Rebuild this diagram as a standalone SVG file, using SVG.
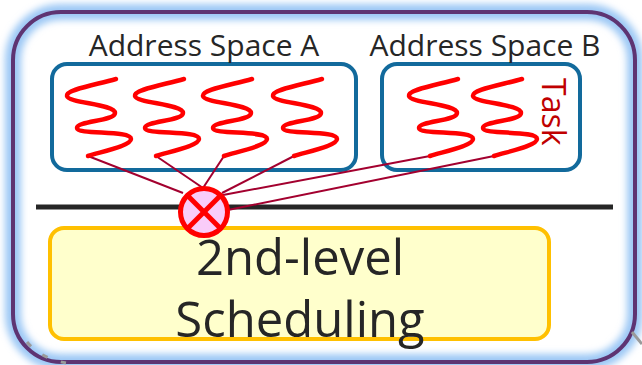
<svg xmlns="http://www.w3.org/2000/svg" width="642" height="365" viewBox="0 0 642 365">
  <defs>
    <filter id="glow" x="-10%" y="-10%" width="120%" height="120%">
      <feGaussianBlur stdDeviation="3.5"/>
    </filter>
    <path id="thread" d="M0,0 C-26,7 -50,11 -49,17 C-48,24 -1,25 -1,34 C-1,42 -39,42 -39,49 C-39,56 15,51 15,60 C15,67 -16,73 -28,77"/>
  </defs>
  <style>
    .label { font-family: "Open Sans", "Liberation Sans", sans-serif; fill: #262626; }
    .space { fill: #ffffff; stroke: #126a9c; stroke-width: 4; }
    .thread { fill: none; stroke: #ff0000; stroke-width: 4.5; stroke-linecap: round; }
    .link { stroke: #a3002f; stroke-width: 2; fill: none; }
  </style>

  <rect width="642" height="365" fill="#ffffff"/>

  <!-- outer frame with soft blue halo -->
  <g id="frame">
    <rect x="13" y="12" width="622" height="350" rx="48" ry="48" fill="none" stroke="#9cc8f5" stroke-width="16" filter="url(#glow)"/>
    <rect x="13" y="12" width="622" height="350" rx="48" ry="48" fill="none" stroke="#5e3472" stroke-width="4"/>
    <path d="M27,342 Q40,358 66,363" fill="none" stroke="#9a9a9a" stroke-width="3" stroke-dasharray="6 14"/>
    <line x1="632" y1="332" x2="642" y2="344" stroke="#9a9a9a" stroke-width="3"/>
  </g>

  <!-- kernel boundary -->
  <line id="boundary" x1="36" y1="207" x2="613" y2="207" stroke="#262626" stroke-width="5"/>

  <g id="scheduler">
    <rect x="50" y="228" width="499" height="111" rx="14" ry="14" fill="#ffffcc" stroke="#ffc000" stroke-width="4"/>
    <text class="label" x="300" y="275" font-size="49" text-anchor="middle">2nd-level</text>
    <text class="label" x="300" y="337" font-size="49" text-anchor="middle">Scheduling</text>
  </g>

  <g id="space-a">
    <rect class="space" x="52" y="64" width="304" height="106" rx="15" ry="15"/>
    <text class="label" x="204" y="56" font-size="30" text-anchor="middle">Address Space A</text>
  </g>

  <g id="space-b">
    <rect class="space" x="382" y="64" width="198" height="106" rx="15" ry="15"/>
    <text class="label" x="485" y="56" font-size="30" text-anchor="middle">Address Space B</text>
  </g>

  <!-- connectors from each task to the scheduler entry point -->
  <g id="connectors">
    <line class="link" x1="88" y1="156" x2="183" y2="193"/>
    <line class="link" x1="156" y1="156" x2="203" y2="188"/>
    <line class="link" x1="224" y1="156" x2="203" y2="188"/>
    <line class="link" x1="294" y1="156" x2="222" y2="193"/>
    <line class="link" x1="430" y1="156" x2="223" y2="195"/>
    <line class="link" x1="494" y1="156" x2="228" y2="210"/>
  </g>

  <g id="tasks-a">
    <use href="#thread" class="thread" x="116" y="79"/>
    <use href="#thread" class="thread" x="184" y="79"/>
    <use href="#thread" class="thread" x="252" y="79"/>
    <use href="#thread" class="thread" x="322" y="79"/>
  </g>

  <g id="tasks-b">
    <use href="#thread" class="thread" x="458" y="79"/>
    <use href="#thread" class="thread" x="522" y="79"/>
    <text x="542" y="78" font-family="'Open Sans', 'Liberation Sans', sans-serif" font-size="32" fill="#c00000" transform="rotate(90 542 78)">Task</text>
  </g>

  <g id="switch">
    <circle cx="204" cy="212" r="23.5" fill="#f9ccf9" stroke="#ff0000" stroke-width="5"/>
    <line x1="188" y1="196" x2="220" y2="228" stroke="#ff0000" stroke-width="5"/>
    <line x1="220" y1="196" x2="188" y2="228" stroke="#ff0000" stroke-width="5"/>
  </g>
</svg>
